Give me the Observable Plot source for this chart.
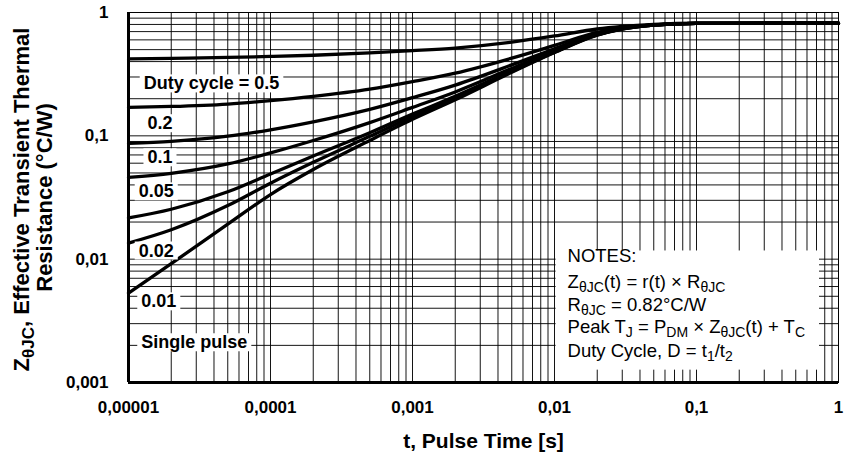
<!DOCTYPE html>
<html><head><meta charset="utf-8">
<script src="https://cdn.jsdelivr.net/npm/d3@7"></script>
<script src="https://cdn.jsdelivr.net/npm/@observablehq/plot@0.6"></script>
<style>html,body{margin:0;padding:0;background:#fff}svg{display:block}</style>
</head><body><div id="chart"></div>
<script>
const FONT = "'Liberation Sans', Arial, Helvetica, sans-serif";

// pulse time grid (s)
const pulseTime = [1e-5, 2e-5, 5e-5, 1e-4, 2e-4, 5e-4, 1e-3, 2e-3, 5e-3, 1e-2, 2e-2, 3e-2, 5e-2, 1e-1, 1];
// Z_thetaJC values (°C/W)
const duty05      = [0.42, 0.425, 0.432, 0.44, 0.45, 0.47, 0.49, 0.515, 0.575, 0.645, 0.735, 0.77, 0.80, 0.818, 0.82];
const duty02      = [0.170, 0.173, 0.181, 0.193, 0.209, 0.239, 0.275, 0.322, 0.426, 0.542, 0.69, 0.75, 0.795, 0.817, 0.82];
const duty01      = [0.087, 0.0903, 0.0993, 0.112, 0.130, 0.164, 0.204, 0.258, 0.376, 0.508, 0.675, 0.745, 0.793, 0.816, 0.82];
const duty005     = [0.046, 0.0497, 0.0592, 0.0727, 0.0916, 0.128, 0.170, 0.227, 0.352, 0.490, 0.665, 0.74, 0.792, 0.816, 0.82];
const duty002     = [0.0216, 0.0254, 0.0352, 0.0491, 0.0686, 0.106, 0.150, 0.209, 0.337, 0.480, 0.66, 0.737, 0.791, 0.815, 0.82];
const duty001     = [0.0135, 0.0173, 0.0272, 0.0413, 0.061, 0.099, 0.143, 0.202, 0.332, 0.476, 0.657, 0.735, 0.79, 0.815, 0.82];
const singlePulse = [0.0053, 0.0092, 0.0192, 0.0334, 0.0533, 0.0916, 0.136, 0.196, 0.327, 0.473, 0.655, 0.733, 0.79, 0.815, 0.82];

const seriesNames = ["Duty cycle = 0.5", "0.2", "0.1", "0.05", "0.02", "0.01", "Single pulse"];
const seriesValues = [duty05, duty02, duty01, duty005, duty002, duty001, singlePulse];

// label anchors (data coordinates)
const labelT = [1.28e-5, 1.36e-5, 1.36e-5, 1.18e-5, 1.18e-5, 1.23e-5, 1.23e-5];
const labelZ = [0.265, 0.126, 0.0667, 0.0353, 0.0117, 0.00453, 0.00211];

// notes
const notesT = 0.01236;
const notesZ = [0.0105, 0.00646, 0.00428, 0.00279, 0.00181];
const notesLines = [
  "NOTES:",
  "Z_{θJC}(t) = r(t) × R_{θJC}",
  "R_{θJC} = 0.82°C/W",
  "Peak T_{J} = P_{DM} × Z_{θJC}(t) + T_{C}",
  "Duty Cycle, D = t_{1}/t_{2}"
];

// axes
const xDomain = [1e-5, 1];
const yDomain = [0.001, 1];
const xTicks = [1e-5, 1e-4, 1e-3, 1e-2, 1e-1, 1];
const xTickLabels = ["0,00001", "0,0001", "0,001", "0,01", "0,1", "1"];
const yTicks = [0.001, 0.01, 0.1, 1];
const yTickLabels = ["0,001", "0,01", "0,1", "1"];
const xTitle = "t, Pulse Time [s]";
const yTitleLines = ["Z_{θJC}, Effective Transient Thermal", "Resistance (°C/W)"];

// log grid lines
const gridT = [];
for (let k = -5; k < 0; k++) for (let m = 1; m <= 9; m++) gridT.push(m * Math.pow(10, k));
gridT.push(1);
const gridZ = [];
for (let k = -3; k < 0; k++) for (let m = 1; m <= 9; m++) gridZ.push(m * Math.pow(10, k));
gridZ.push(1);

const plain = s => s.replace(/_\{([^}]*)\}/g, "$1");
const curveData = [];
seriesNames.forEach((name, s) => pulseTime.forEach((t, i) => curveData.push({series: name, t, z: seriesValues[s][i]})));
const labelData = seriesNames.map((name, i) => ({label: name, t: labelT[i], z: labelZ[i]}));
const notesData = notesLines.map((line, i) => ({line: plain(line), t: notesT, z: notesZ[i]}));

const plot = Plot.plot({
  width: 846, height: 461,
  marginLeft: 128, marginRight: 8, marginTop: 12, marginBottom: 79,
  x: {type: "log", domain: xDomain},
  y: {type: "log", domain: yDomain},
  style: {fontFamily: FONT, background: "white", color: "black", overflow: "visible"},
  marks: [
    Plot.ruleX(gridT, {stroke: "#000", strokeOpacity: 0.92, strokeWidth: 1}),
    Plot.ruleY(gridZ, {stroke: "#000", strokeOpacity: 0.92, strokeWidth: 1}),
    Plot.line(curveData, {x: "t", y: "z", z: "series", stroke: "black", strokeWidth: 3.3, curve: "monotone-x"}),
    Plot.text(labelData, {x: "t", y: "z", text: "label", textAnchor: "start", fontSize: 18, fontWeight: "bold", fill: "black"}),
    Plot.text(notesData, {x: "t", y: "z", text: "line", textAnchor: "start", fontSize: 18.5, fill: "black"}),
    Plot.frame({stroke: "black", strokeWidth: 1}),
    Plot.ruleX([xDomain[0]], {stroke: "black", strokeWidth: 3}),
    Plot.ruleY([yDomain[0]], {stroke: "black", strokeWidth: 3}),
    Plot.axisX(xTicks, {tickSize: 0, tickPadding: 18, fontSize: 17, fontWeight: "bold", label: null,
      tickFormat: d => xTickLabels[xTicks.indexOf(d)]}),
    Plot.axisY(yTicks, {tickSize: 0, tickPadding: 20, fontSize: 17, fontWeight: "bold", label: null,
      tickFormat: d => yTickLabels[yTicks.indexOf(d)]}),
    Plot.text([xTitle], {frameAnchor: "bottom", textAnchor: "middle", dy: 65, fontSize: 21, fontWeight: "bold", fill: "black"}),
    Plot.text([plain(yTitleLines[0])], {frameAnchor: "left", textAnchor: "middle", dx: -107, dy: 2, rotate: -90, fontSize: 22, fontWeight: "bold", fill: "black"}),
    Plot.text([yTitleLines[1]], {frameAnchor: "left", textAnchor: "middle", dx: -84, dy: 0, rotate: -90, fontSize: 22, fontWeight: "bold", fill: "black"})
  ]
});
document.getElementById("chart").appendChild(plot);
const svgNode = plot.tagName.toLowerCase() === "svg" ? plot : plot.querySelector("svg");
const allTexts = Array.from(svgNode.querySelectorAll("text"));
const findText = s => allTexts.find(t => t.textContent === s);

// rich text with subscripts
function richify(el, markup, subSize, shift) {
  if (!el) return;
  while (el.firstChild) el.removeChild(el.firstChild);
  const parts = markup.split(/(_\{[^}]*\})/).filter(p => p.length);
  let lowered = false;
  parts.forEach(p => {
    const ts = document.createElementNS("http://www.w3.org/2000/svg", "tspan");
    if (p.startsWith("_{")) {
      ts.textContent = p.slice(2, -1);
      ts.setAttribute("font-size", subSize);
      if (!lowered) { ts.setAttribute("dy", shift); lowered = true; }
    } else {
      ts.textContent = p;
      if (lowered) { ts.setAttribute("dy", -shift); lowered = false; }
    }
    el.appendChild(ts);
  });
}
const noteEls = notesLines.map(l => findText(plain(l)));
const yTitleEl = findText(plain(yTitleLines[0]));
noteEls.forEach((el, i) => richify(el, notesLines[i], "14px", 4));
richify(yTitleEl, yTitleLines[0], "17px", 5);

// white boxes behind labels and the notes block
const root = svgNode.getBoundingClientRect();
function addBox(beforeNode, x0, y0, x1, y1) {
  const r = document.createElementNS("http://www.w3.org/2000/svg", "rect");
  r.setAttribute("x", x0); r.setAttribute("y", y0);
  r.setAttribute("width", x1 - x0); r.setAttribute("height", y1 - y0);
  r.setAttribute("fill", "white");
  beforeNode.parentNode.insertBefore(r, beforeNode);
}
const topGroup = el => { let n = el; while (n.parentNode && n.parentNode !== svgNode) n = n.parentNode; return n; };
seriesNames.map(findText).forEach(t => {
  if (!t) return;
  const b = t.getBoundingClientRect();
  addBox(topGroup(t), b.left - root.left - 4, b.top - root.top + 1, b.right - root.left + 4, b.bottom - root.top - 1);
});
const validNotes = noteEls.filter(Boolean);
if (validNotes.length) {
  let nx0 = Infinity, ny0 = Infinity, nx1 = -Infinity, ny1 = -Infinity;
  validNotes.forEach(t => {
    const b = t.getBoundingClientRect();
    nx0 = Math.min(nx0, b.left); ny0 = Math.min(ny0, b.top); nx1 = Math.max(nx1, b.right); ny1 = Math.max(ny1, b.bottom);
  });
  addBox(topGroup(validNotes[0]), nx0 - root.left - 12, ny0 - root.top + 5, nx1 - root.left + 14, ny1 - root.top + 6);
}
</script>
</body></html>
